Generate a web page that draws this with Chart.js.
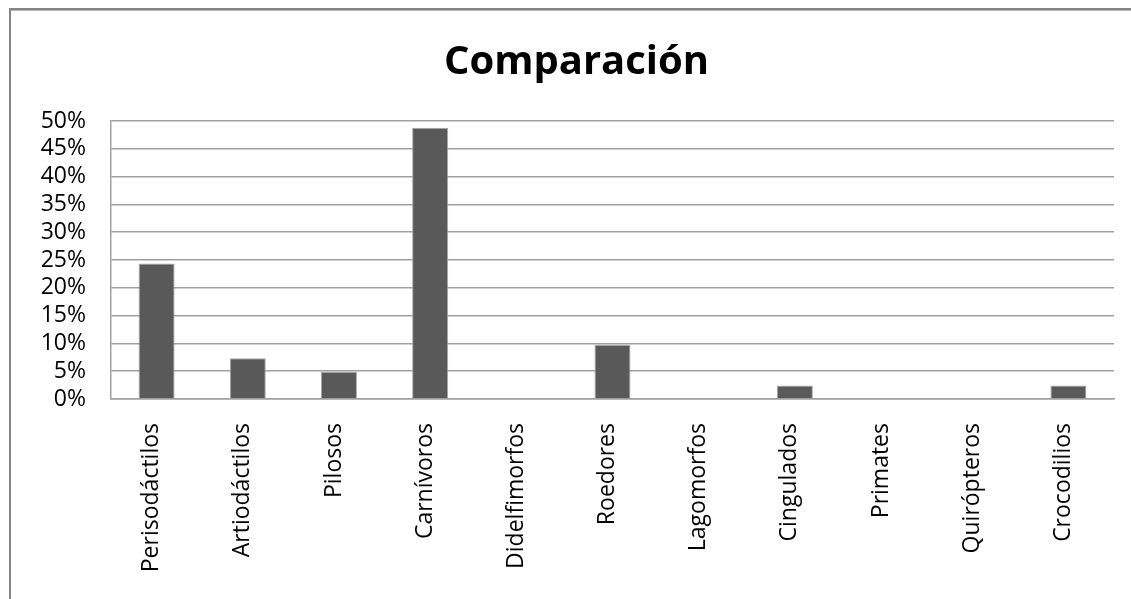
<!DOCTYPE html>
<html lang="es">
<head>
<meta charset="utf-8">
<title>Comparación</title>
<script src="https://cdn.jsdelivr.net/npm/chart.js@4"></script>
<style>
  html, body { margin: 0; padding: 0; background: #ffffff; overflow: hidden; }
  #wrap { position: absolute; left: 0; top: 0; width: 1131px; height: 599px; }
</style>
</head>
<body>
<div id="wrap"><canvas id="chart"></canvas></div>
<script>
// Órdenes / grupos registrados
const categories = [
  'Perisodáctilos', 'Artiodáctilos', 'Pilosos', 'Carnívoros', 'Didelfimorfos',
  'Roedores', 'Lagomorfos', 'Cingulados', 'Primates', 'Quirópteros', 'Crocodilios'
];

// Porcentaje de cada grupo
const percentages = [24.39, 7.32, 4.88, 48.78, 0, 9.76, 0, 2.44, 0, 0, 2.44];

// Marcas del eje vertical
const yTicks = [0, 5, 10, 15, 20, 25, 30, 35, 40, 45, 50];

const FONT = '"Open Sans", "Liberation Sans", sans-serif';

// Marco gris superior e izquierdo del área del gráfico
const framePlugin = {
  id: 'frame',
  beforeDraw(chart) {
    const ctx = chart.ctx;
    ctx.save();
    ctx.fillStyle = '#ffffff';
    ctx.fillRect(0, 0, chart.width, chart.height);
    ctx.fillStyle = '#858585';
    ctx.fillRect(9, 8, chart.width - 9, 2);
    ctx.fillRect(9, 8, 2, chart.height - 8);
    ctx.fillStyle = '#b5b5b5';
    ctx.fillRect(11, 10, chart.width - 11, 1);
    ctx.restore();
  }
};

new Chart(document.getElementById('chart'), {
  type: 'bar',
  data: {
    labels: categories,
    datasets: [{
      data: percentages,
      backgroundColor: '#595959',
      borderColor: '#a6a6a6',
      borderWidth: 1,
      borderSkipped: 'bottom',
      barPercentage: 0.395,
      categoryPercentage: 1
    }]
  },
  options: {
    responsive: true,
    maintainAspectRatio: false,
    animation: false,
    devicePixelRatio: 1,
    layout: { padding: { top: 0, left: 39, right: 17, bottom: 0 } },
    plugins: {
      legend: { display: false },
      tooltip: { enabled: false },
      title: {
        display: true,
        text: 'Comparación',
        color: '#000000',
        font: { family: FONT, size: 40, weight: 'bold', lineHeight: 1.2 },
        padding: { top: 39, bottom: 34 }
      }
    },
    scales: {
      x: {
        grid: { display: false, drawTicks: false },
        border: { display: true, color: '#a0a0a0', width: 1.5 },
        ticks: {
          color: '#000000',
          font: { family: FONT, size: 23 },
          minRotation: 90,
          maxRotation: 90,
          autoSkip: false,
          labelOffset: -5,
          padding: 24
        },
        afterFit(scale) { scale.height = 200; }
      },
      y: {
        min: yTicks[0],
        max: yTicks[yTicks.length - 1],
        afterBuildTicks(scale) { scale.ticks = yTicks.map(v => ({ value: v })); },
        grid: { color: '#a0a0a0', lineWidth: 1.5, drawTicks: false },
        border: { display: true, color: '#a0a0a0', width: 1.5 },
        ticks: {
          color: '#000000',
          font: { family: FONT, size: 23 },
          padding: 25,
          autoSkip: false,
          callback: v => v + '%'
        },
        afterFit(scale) { scale.width = 72; }
      }
    }
  },
  plugins: [framePlugin]
});
</script>
</body>
</html>
